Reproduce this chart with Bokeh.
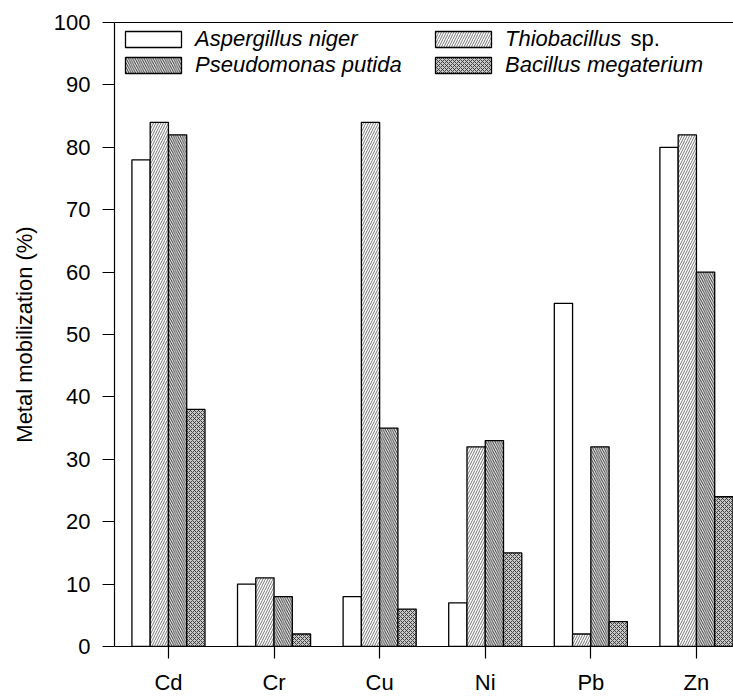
import numpy as np
from bokeh.plotting import figure
from bokeh.models import (ColumnDataSource, Range1d, FixedTicker, Legend,
                          LegendItem, Label, LinearAxis)
from bokeh.transform import dodge
from bokeh.embed import file_html
from bokeh.resources import INLINE

# ---------------- data ----------------
metals = ["Cd", "Cr", "Cu", "Ni", "Pb", "Zn"]
aspergillus_niger = [78, 10, 8, 7, 55, 80]
thiobacillus_sp = [84, 11, 84, 32, 2, 82]
pseudomonas_putida = [82, 8, 35, 33, 32, 60]
bacillus_megaterium = [38, 2, 6, 15, 4, 24]
y_ticks = [0, 10, 20, 30, 40, 50, 60, 70, 80, 90, 100]
y_label = "Metal mobilization (%)"

FONT = "Liberation Sans"
FS = "22px"
W = 0.173  # bar width in category units

src = ColumnDataSource(dict(
    pos=list(range(len(metals))),
    asp=aspergillus_niger,
    thio=thiobacillus_sp,
    pseu=pseudomonas_putida,
    bac=bacillus_megaterium,
))

p = figure(width=733, height=697,
           x_range=Range1d(-0.511, 5.351), y_range=Range1d(0, 100),
           output_backend="svg", toolbar_location=None,
           min_border_left=114, min_border_right=0,
           min_border_top=22, min_border_bottom=49)
p.xgrid.grid_line_color = None
p.ygrid.grid_line_color = None
p.outline_line_color = None
p.background_fill_color = "white"
p.border_fill_color = "white"

common = dict(source=src, width=W, line_color="black", line_width=1.3)
r_asp = p.vbar(x=dodge("pos", -1.5 * W, range=p.x_range), top="asp",
               fill_color="white", **common)
r_thio = p.vbar(x=dodge("pos", -0.5 * W, range=p.x_range), top="thio",
                fill_color="white", hatch_pattern="/", hatch_scale=5,
                hatch_weight=0.8, hatch_color="#555555", **common)
r_pseu = p.vbar(x=dodge("pos", 0.5 * W, range=p.x_range), top="pseu",
                fill_color="white", hatch_pattern="\\", hatch_scale=4.5,
                hatch_weight=1.0, hatch_color="#333333", **common)
r_bac = p.vbar(x=dodge("pos", 1.5 * W, range=p.x_range), top="bac",
               fill_color="#c8c8c8", hatch_pattern="x", hatch_scale=4,
               hatch_weight=0.9, hatch_color="#333333", **common)

# axes
for ax in (p.xaxis[0], p.yaxis[0]):
    ax.axis_line_color = "black"
    ax.axis_line_width = 1.2
    ax.major_tick_line_color = "black"
    ax.major_tick_line_width = 1.2
    ax.major_tick_out = 12
    ax.major_tick_in = 0
    ax.minor_tick_line_color = None
    ax.major_label_text_font = FONT
    ax.major_label_text_font_size = FS
    ax.major_label_text_color = "black"

p.xaxis.ticker = FixedTicker(ticks=list(range(len(metals))))
p.xaxis.major_label_overrides = {i: m for i, m in enumerate(metals)}
p.xaxis.major_label_standoff = 11

p.yaxis.ticker = FixedTicker(ticks=y_ticks)
p.yaxis.major_label_standoff = 12
p.yaxis.axis_label = y_label
p.yaxis.axis_label_text_font = FONT
p.yaxis.axis_label_text_font_size = FS
p.yaxis.axis_label_text_font_style = "normal"
p.yaxis.axis_label_text_color = "black"
p.yaxis.axis_label_standoff = 14

# top frame line
top_axis = LinearAxis(ticker=FixedTicker(ticks=[]), axis_line_color="black",
                      axis_line_width=1.2, major_tick_line_color=None,
                      minor_tick_line_color=None,
                      major_label_text_font_size="0px",
                      major_label_standoff=0)
p.add_layout(top_axis, "above")

legend = Legend(items=[
    LegendItem(label="Aspergillus niger", renderers=[r_asp]),
    LegendItem(label="Pseudomonas putida", renderers=[r_pseu]),
    LegendItem(label="Thiobacillus", renderers=[r_thio]),
    LegendItem(label="Bacillus megaterium", renderers=[r_bac]),
], ncols=2, location="top_left", margin=4, padding=9, spacing=0,
    glyph_width=70, glyph_height=20, label_standoff=7,
    label_width=233, label_height=24,
    label_text_font=FONT, label_text_font_style="italic",
    label_text_font_size=FS, label_text_color="black",
    border_line_color=None, background_fill_alpha=0)
p.add_layout(legend)

p.add_layout(Label(x=4.375, y=97.45, text="sp.", text_font=FONT,
                   text_font_size=FS, text_baseline="middle",
                   text_color="black"))

open("out.html", "w").write(file_html(p, INLINE))
